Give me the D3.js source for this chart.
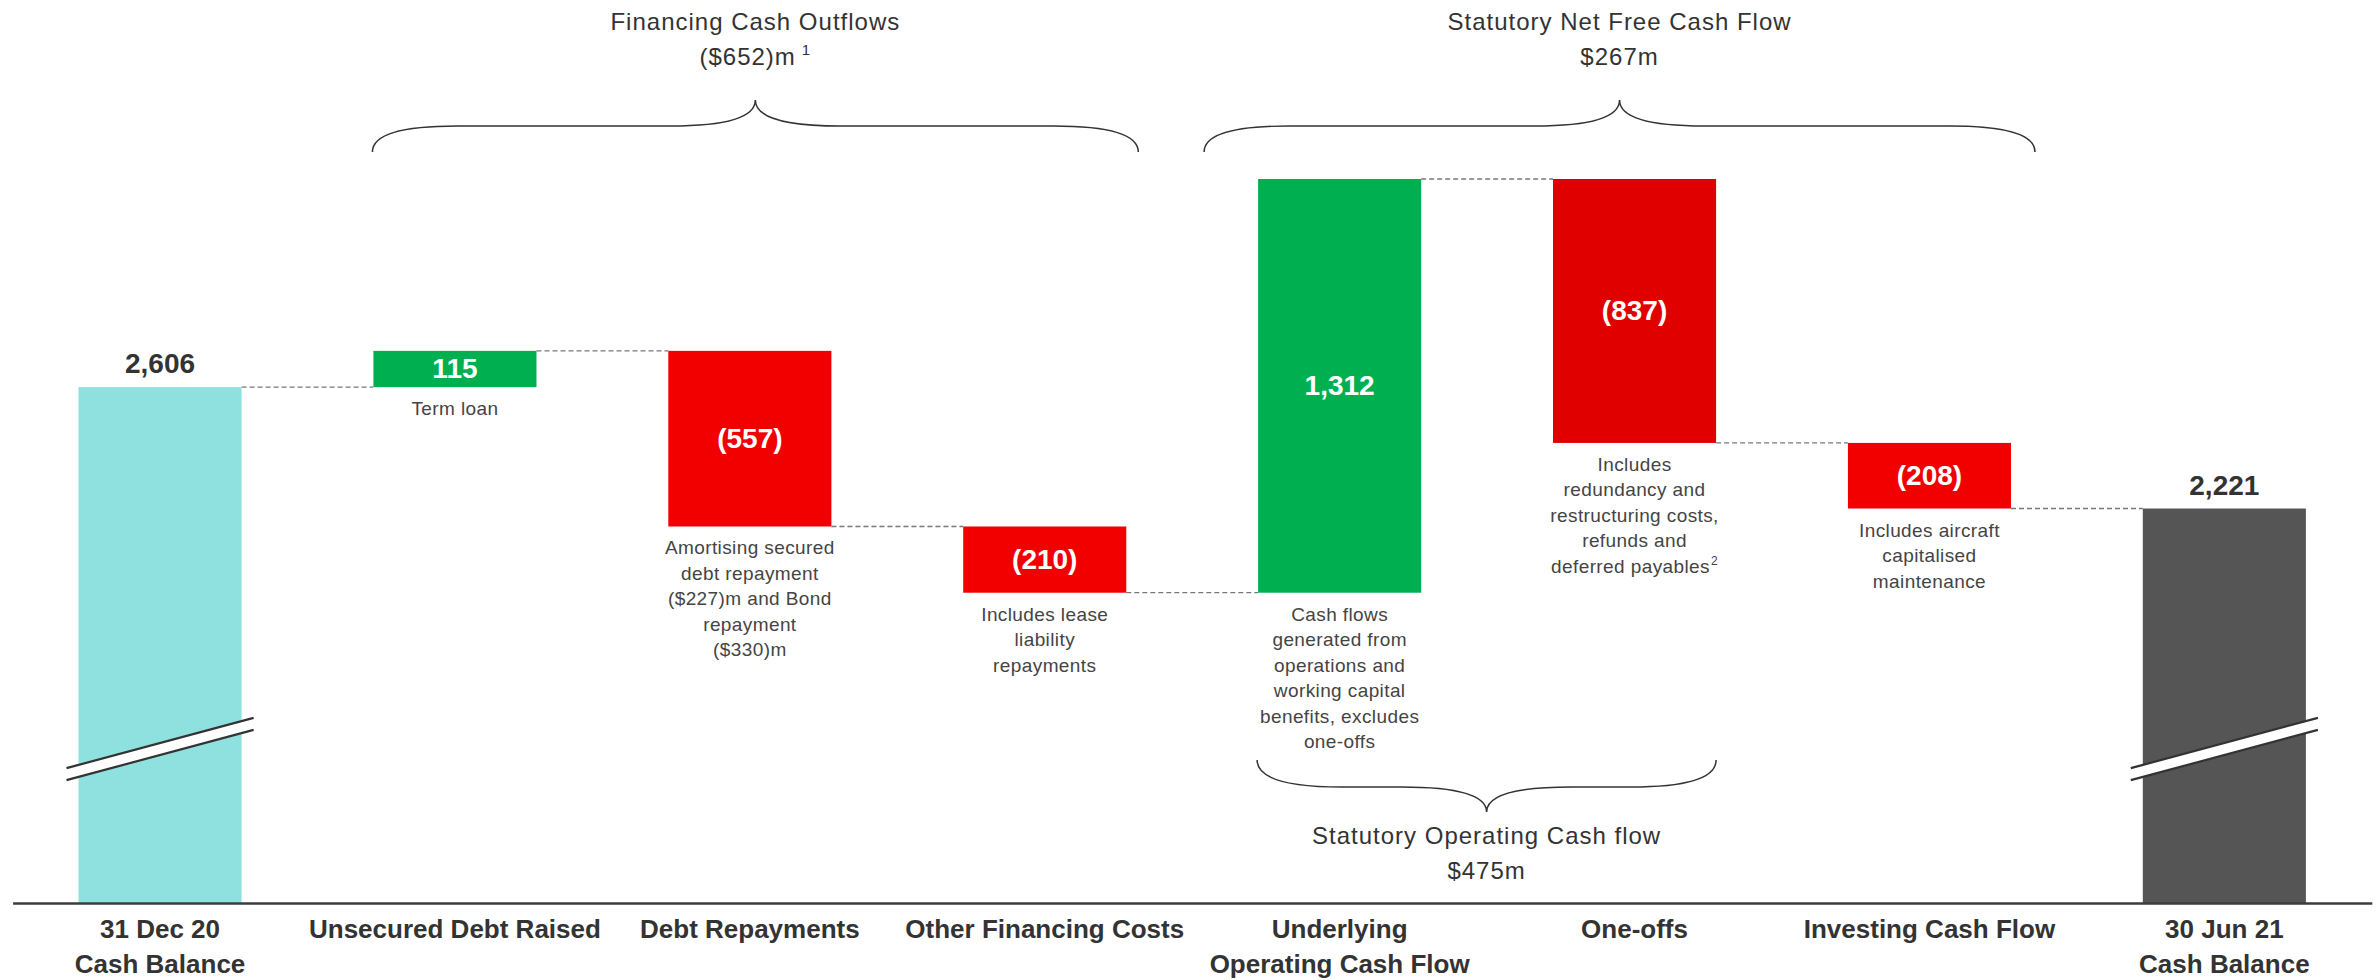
<!DOCTYPE html>
<html>
<head>
<meta charset="utf-8">
<script src="https://cdn.jsdelivr.net/npm/d3@7/dist/d3.min.js"></script>
<style>
  body { margin: 0; background: #fff; }
  text { font-family: 'Liberation Sans', Arial, sans-serif; }
</style>
</head>
<body>
<script>
// waterfall data ($m)
const categories = [
  ['31 Dec 20', 'Cash Balance'],
  ['Unsecured Debt Raised'],
  ['Debt Repayments'],
  ['Other Financing Costs'],
  ['Underlying', 'Operating Cash Flow'],
  ['One-offs'],
  ['Investing Cash Flow'],
  ['30 Jun 21', 'Cash Balance']
];
const values = [2606, 115, -557, -210, 1312, -837, -208, 2221];
const kinds = ['total', 'up', 'down', 'down', 'up', 'oneoff', 'down', 'total'];
const notes = [
  [],
  ['Term loan'],
  ['Amortising secured', 'debt repayment', '($227)m and Bond', 'repayment', '($330)m'],
  ['Includes lease', 'liability', 'repayments'],
  ['Cash flows', 'generated from', 'operations and', 'working capital', 'benefits, excludes', 'one-offs'],
  ['Includes', 'redundancy and', 'restructuring costs,', 'refunds and', 'deferred payables^2'],
  ['Includes aircraft', 'capitalised', 'maintenance'],
  []
];
const braceFrom = [1, 4, 4];
const braceTo = [3, 6, 5];
const braceSide = ['top', 'top', 'bottom'];
const braceLabels = [
  ['Financing Cash Outflows', '($652)m^1'],
  ['Statutory Net Free Cash Flow', '$267m'],
  ['Statutory Operating Cash flow', '$475m']
];

const width = 2379;
const height = 980;
const bracePad = [[1, 12], [54, 24], [1, 0]];

const svg = d3.select('body').append('svg')
  .attr('width', width)
  .attr('height', height);

const xScale = d3.scaleBand()
  .domain(d3.range(values.length))
  .range([12.6, 2371.8])
  .paddingInner(0.447)
  .paddingOuter(0.2235);
const bw = xScale.bandwidth();

// broken axis: base of the scale is not zero
const yScale = d3.scaleLinear()
  .domain([970, 3266])
  .range([903, 179]);
const base = yScale.domain()[0];

const fmt = d3.format(',');
const label = v => v < 0 ? `(${fmt(-v)})` : fmt(v);

const colors = { up: '#00b050', down: '#f20000', oneoff: '#e10000' };

let run = 0;
const bars = values.map((v, i) => {
  if (kinds[i] === 'total') {
    run = v;
    return { i, v, lo: base, hi: v, end: v };
  }
  const start = run;
  run += v;
  return { i, v, lo: Math.min(start, run), hi: Math.max(start, run), end: run };
});

// helper: text with optional ^superscript
function addText(g, str, x, y, size, sup) {
  const parts = str.split('^');
  const t = g.append('text').attr('x', x).attr('y', y).attr('text-anchor', 'middle');
  t.append('tspan').text(parts[0]);
  if (parts[1]) {
    t.append('tspan')
      .attr('dx', sup.dx)
      .attr('dy', -sup.dy)
      .style('font-size', sup.size + 'px')
      .text(parts[1]);
  }
  return t;
}

// connectors
svg.append('g')
  .selectAll('line')
  .data(bars.slice(0, -1))
  .join('line')
  .attr('x1', d => xScale(d.i) + bw)
  .attr('x2', d => xScale(d.i + 1))
  .attr('y1', d => yScale(d.end))
  .attr('y2', d => yScale(d.end))
  .attr('stroke', '#777')
  .attr('stroke-width', 1.3)
  .attr('stroke-dasharray', '5,3');

// bars
svg.append('g')
  .selectAll('rect')
  .data(bars)
  .join('rect')
  .attr('x', d => xScale(d.i))
  .attr('width', bw)
  .attr('y', d => yScale(d.hi))
  .attr('height', d => yScale(d.lo) - yScale(d.hi))
  .attr('fill', d => kinds[d.i] === 'total' ? (d.i === 0 ? '#8fe1df' : '#555555') : colors[kinds[d.i]]);

// axis line
svg.append('g')
  .attr('transform', `translate(0, ${yScale(base)})`)
  .call(d3.axisBottom(xScale).tickSize(0).tickSizeOuter(0).tickFormat(''))
  .call(g => g.select('.domain').attr('stroke', '#3c3c3c').attr('stroke-width', 2.5));

// axis break marks on total bars
const brk = svg.append('g');
bars.filter(d => kinds[d.i] === 'total').forEach(d => {
  const cx = xScale(d.i) + bw / 2;
  const cy = yScale(base) - 154;
  const hw = bw / 2 + 12;
  const rise = hw * 50 / 186;
  const gap = 6;
  brk.append('polygon')
    .attr('points', [
      [cx - hw, cy - gap + rise], [cx + hw, cy - gap - rise],
      [cx + hw, cy + gap - rise], [cx - hw, cy + gap + rise]
    ].join(' '))
    .attr('fill', '#fff');
  [-gap, gap].forEach(o => {
    brk.append('line')
      .attr('x1', cx - hw).attr('y1', cy + o + rise)
      .attr('x2', cx + hw).attr('y2', cy + o - rise)
      .attr('stroke', '#333')
      .attr('stroke-width', 2.2);
  });
});

// value labels
const vals = svg.append('g')
  .style('font-size', '28px')
  .style('font-weight', 'bold');
bars.forEach(d => {
  const cx = xScale(d.i) + bw / 2;
  if (kinds[d.i] === 'total') {
    vals.append('text')
      .attr('x', cx).attr('y', yScale(d.hi) - 14)
      .attr('text-anchor', 'middle')
      .attr('fill', '#333')
      .text(label(d.v));
  } else {
    vals.append('text')
      .attr('x', cx).attr('y', (yScale(d.hi) + yScale(d.lo)) / 2)
      .attr('text-anchor', 'middle')
      .attr('dominant-baseline', 'central')
      .attr('fill', '#fff')
      .text(label(d.v));
  }
});

// notes under bars
const noteG = svg.append('g')
  .attr('fill', '#444')
  .style('font-size', '19px')
  .style('letter-spacing', '0.4px');
bars.forEach(d => {
  const cx = xScale(d.i) + bw / 2;
  const y0 = yScale(d.lo) + 28;
  notes[d.i].forEach((ln, j) => {
    addText(noteG, ln, cx, y0 + j * 25.5, 19, { dx: 1, dy: 8, size: 12 });
  });
});

// category labels
const cats = svg.append('g')
  .attr('fill', '#333')
  .style('font-size', '26px')
  .style('font-weight', 'bold');
categories.forEach((lines, i) => {
  lines.forEach((ln, j) => {
    cats.append('text')
      .attr('x', xScale(i) + bw / 2)
      .attr('y', 938 + j * 35)
      .attr('text-anchor', 'middle')
      .text(ln);
  });
});

// braces
function bracePath(x0, x1, yEnd, yFlat, yTip) {
  const xm = (x0 + x1) / 2;
  const r = 85;
  return `M${x0},${yEnd} Q${x0},${yFlat} ${x0 + r},${yFlat} L${xm - r},${yFlat} ` +
    `Q${xm},${yFlat} ${xm},${yTip} Q${xm},${yFlat} ${xm + r},${yFlat} ` +
    `L${x1 - r},${yFlat} Q${x1},${yFlat} ${x1},${yEnd}`;
}

const braceG = svg.append('g');
const braceText = svg.append('g')
  .attr('fill', '#333')
  .style('font-size', '24px')
  .style('letter-spacing', '1px');
braceLabels.forEach((lines, k) => {
  const x0 = xScale(braceFrom[k]) - bracePad[k][0];
  const x1 = xScale(braceTo[k]) + bw + bracePad[k][1];
  const xm = (x0 + x1) / 2;
  if (braceSide[k] === 'top') {
    braceG.append('path')
      .attr('d', bracePath(x0, x1, 152, 126, 100))
      .attr('fill', 'none').attr('stroke', '#333').attr('stroke-width', 1.5);
    lines.forEach((ln, j) => addText(braceText, ln, xm, 30 + j * 35, 24, { dx: 6, dy: 10, size: 15 }));
  } else {
    braceG.append('path')
      .attr('d', bracePath(x0, x1, 760, 787, 812))
      .attr('fill', 'none').attr('stroke', '#333').attr('stroke-width', 1.5);
    lines.forEach((ln, j) => addText(braceText, ln, xm, 844 + j * 35, 24, { dx: 6, dy: 10, size: 15 }));
  }
});
</script>
</body>
</html>
